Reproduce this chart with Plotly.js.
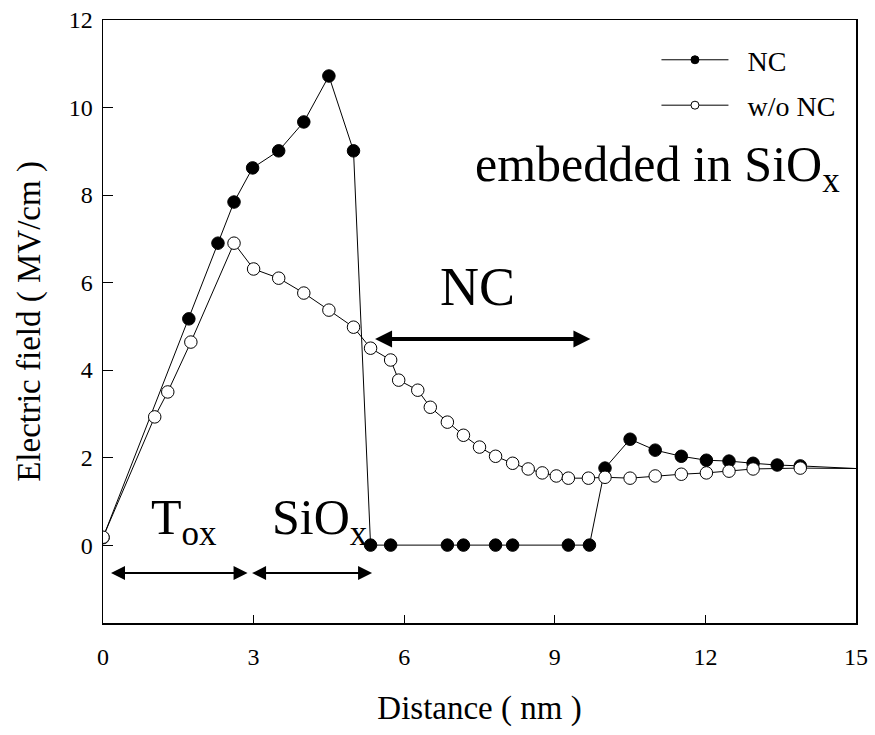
<!DOCTYPE html>
<html>
<head>
<meta charset="utf-8">
<script src="https://cdn.plot.ly/plotly-3.0.1.min.js"></script>
<style>
  html, body { margin: 0; padding: 0; background: #fff; }
  #chart { width: 875px; height: 735px; }
</style>
</head>
<body>
<div id="chart"></div>
<script>
// Electric field across the gate stack (tunnel oxide, SiOx, nanocrystal region, substrate)
const ncX = [0, 1.71, 2.29, 2.61, 2.98, 3.50, 4.00, 4.50, 4.99, 5.33, 5.73, 6.86, 7.18, 7.82, 8.16, 9.27, 9.69,
             10.0, 10.5, 11.0, 11.52, 12.02, 12.47, 12.95, 13.43, 13.89, 15];
const ncY = [0.17, 5.17, 6.90, 7.84, 8.62, 9.01, 9.67, 10.72, 9.01, 0, 0, 0, 0, 0, 0, 0, 0,
             1.76, 2.42, 2.17, 2.03, 1.94, 1.92, 1.87, 1.83, 1.81, 1.75];

const woX = [0, 1.03, 1.29, 1.75, 2.61, 3.00, 3.50, 4.00, 4.50, 4.99, 5.33, 5.73, 5.89, 6.27, 6.52, 6.86, 7.18,
             7.50, 7.82, 8.16, 8.47, 8.75, 9.03, 9.27, 9.67, 10.0, 10.5, 11.0, 11.52, 12.02, 12.47, 12.95, 13.89, 15];
const woY = [0.18, 2.93, 3.50, 4.64, 6.90, 6.31, 6.10, 5.76, 5.37, 4.98, 4.50, 4.23, 3.77, 3.54, 3.15, 2.81, 2.51,
             2.24, 2.03, 1.87, 1.74, 1.65, 1.58, 1.53, 1.53, 1.55, 1.53, 1.58, 1.62, 1.65, 1.69, 1.74, 1.76, 1.75];

const seriesNames = ['NC', 'w/o NC'];
const xTicks = [0, 3, 6, 9, 12, 15];
const yTicks = [0, 2, 4, 6, 8, 10, 12];

// region labels and their double-headed arrows [from, to, level]
const toxSpan = [0.13, 2.88, -0.64];
const sioxSpan = [2.94, 5.36, -0.64];
const ncSpan = [5.39, 9.71, 4.71];

const SERIF = '"Liberation Serif", "Times New Roman", serif';
const MS = 12.5;

// last point of each series is the unmarked tail to the edge of the axis
function sizes(n) { return Array.from({length: n}, (_, i) => (i === n - 1 ? 0 : MS)); }

const traces = [
  {
    x: ncX, y: ncY, mode: 'lines+markers', showlegend: false, hoverinfo: 'x+y',
    line: {color: '#000', width: 1},
    marker: {symbol: 'circle', color: '#000', opacity: 1, size: sizes(ncX.length), line: {color: '#000', width: 1}}
  },
  {
    x: woX, y: woY, mode: 'lines+markers', showlegend: false, hoverinfo: 'x+y',
    line: {color: '#000', width: 1},
    marker: {symbol: 'circle', color: '#fff', opacity: 1, size: sizes(woX.length), line: {color: '#000', width: 1}}
  },
  // legend entries
  {
    x: [null], y: [null], name: '&nbsp;&nbsp;' + seriesNames[0], mode: 'lines+markers', legendgroup: 'a',
    line: {color: '#000', width: 1}, marker: {color: '#000', opacity: 1, size: 8, line: {color: '#000', width: 1}}
  },
  {
    x: [null], y: [null], name: '&nbsp;&nbsp;' + seriesNames[1], mode: 'lines+markers', legendgroup: 'b',
    line: {color: '#000', width: 1}, marker: {color: '#fff', opacity: 1, size: 8, line: {color: '#000', width: 1}}
  }
];

function span(s, w, size) {
  return {
    x: s[1], y: s[2], ax: s[0], ay: s[2], xref: 'x', yref: 'y', axref: 'x', ayref: 'y',
    text: '', showarrow: true, arrowside: 'end+start', arrowhead: 2,
    arrowwidth: w, arrowsize: size, arrowcolor: '#000', standoff: 0, startstandoff: 0
  };
}

function label(text, x, y, size, anchor) {
  return {
    x: x, y: y, xref: 'x', yref: 'y', text: text, showarrow: false,
    xanchor: anchor || 'left', yanchor: 'middle',
    font: {family: SERIF, size: size, color: '#000'}
  };
}

const layout = {
  width: 875, height: 735,
  paper_bgcolor: '#fff', plot_bgcolor: '#fff',
  margin: {l: 102.5, r: 19, t: 20, b: 112, pad: 0},
  font: {family: SERIF, color: '#000'},
  xaxis: {
    range: [0, 15], tickvals: xTicks, ticktext: xTicks.map(String),
    ticks: 'inside', ticklen: 8, tickwidth: 1, tickcolor: '#000',
    showline: true, mirror: true, linecolor: '#000', linewidth: 1.5,
    showgrid: false, zeroline: false, ticklabelstandoff: 12,
    tickfont: {family: SERIF, size: 24, color: '#000'},
    title: {text: 'Distance ( nm )', font: {family: SERIF, size: 33, color: '#000'}, standoff: 26}
  },
  yaxis: {
    range: [-1.78, 12], tickvals: yTicks, ticktext: yTicks.map(String),
    ticks: 'inside', ticklen: 10, tickwidth: 1, tickcolor: '#000',
    showline: true, mirror: true, linecolor: '#000', linewidth: 1.5,
    showgrid: false, zeroline: false, ticklabelstandoff: 4,
    tickfont: {family: SERIF, size: 24, color: '#000'},
    title: {text: 'Electric field ( MV/cm )', font: {family: SERIF, size: 33, color: '#000'}, standoff: 18}
  },
  showlegend: true,
  legend: {
    x: 0.735, y: 0.975, xanchor: 'left', yanchor: 'top',
    bgcolor: 'rgba(0,0,0,0)', borderwidth: 0,
    itemwidth: 67, tracegroupgap: 6, traceorder: 'grouped',
    font: {family: SERIF, size: 28, color: '#000'}
  },
  annotations: [
    span(toxSpan, 2, 1.4),
    span(sioxSpan, 2, 1.4),
    span(ncSpan, 4, 0.85),
    label('embedded in SiO<sub>x</sub>', 7.38, 8.62, 50),
    label('NC', 7.46, 5.9, 54, 'center'),
    label('T<sub>ox</sub>', 0.91, 0.55, 50),
    label('SiO<sub>x</sub>', 3.33, 0.55, 50)
  ]
};

Plotly.newPlot('chart', traces, layout, {displayModeBar: false, staticPlot: true});
</script>
</body>
</html>
